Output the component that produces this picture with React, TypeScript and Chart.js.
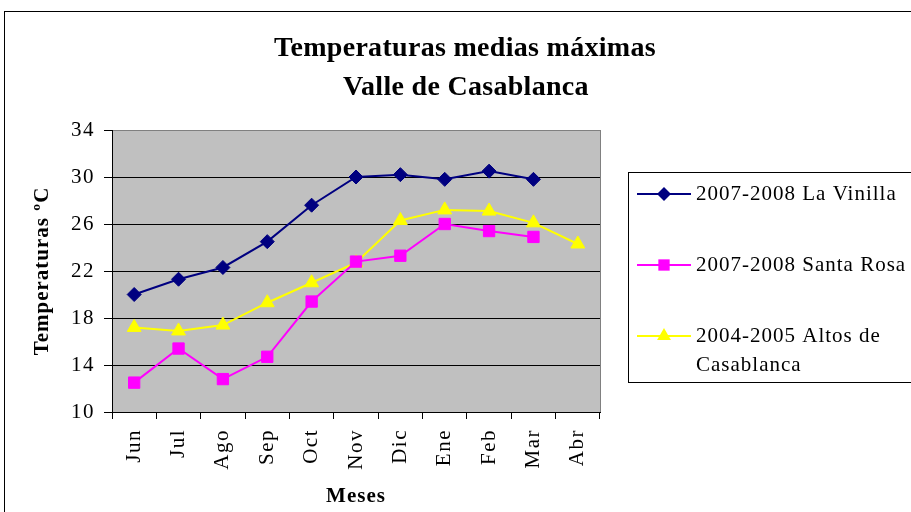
import React, { useEffect, useRef } from 'react';
import { Chart, registerables } from 'chart.js';

Chart.register(...registerables);

const categories = ['Jun', 'Jul', 'Ago', 'Sep', 'Oct', 'Nov', 'Dic', 'Ene', 'Feb', 'Mar', 'Abr'];
const laVinilla = [20.0, 21.3, 22.3, 24.5, 27.6, 30.0, 30.2, 29.8, 30.5, 29.8, null];
const santaRosa = [12.5, 15.4, 12.8, 14.7, 19.4, 22.8, 23.3, 26.0, 25.4, 24.9, null];
const altosCasablanca = [17.2, 16.9, 17.4, 19.3, 21.0, 22.7, 26.3, 27.2, 27.1, 26.1, 24.3];
const yMin = 10;
const yMax = 34;
const yStep = 4;
const seriesNames = ['2007-2008 La Vinilla', '2007-2008 Santa Rosa', '2004-2005 Altos de Casablanca'];
const legendLines = [['2007-2008 La Vinilla'], ['2007-2008 Santa Rosa'], ['2004-2005 Altos de', 'Casablanca']];
const titleLines = ['Temperaturas medias máximas', 'Valle de Casablanca'];
const yTitle = 'Temperaturas ºC';
const xTitle = 'Meses';

const FONT = '"Liberation Serif", "Times New Roman", serif';

function drawMarker(ctx: CanvasRenderingContext2D, style: string, x: number, y: number, r: number, color: string) {
  ctx.save();
  ctx.fillStyle = color;
  ctx.beginPath();
  if (style === 'rectRot') {
    ctx.moveTo(x, y - r);
    ctx.lineTo(x + r, y);
    ctx.lineTo(x, y + r);
    ctx.lineTo(x - r, y);
    ctx.closePath();
  } else if (style === 'rect') {
    const s = r * Math.SQRT1_2;
    ctx.rect(x - s, y - s, 2 * s, 2 * s);
  } else {
    ctx.moveTo(x, y - r);
    ctx.lineTo(x + r * 0.866, y + r * 0.5);
    ctx.lineTo(x - r * 0.866, y + r * 0.5);
    ctx.closePath();
  }
  ctx.fill();
  ctx.restore();
}

const decorPlugin = {
  id: 'decor',
  beforeDraw(chart: any) {
    const { ctx, chartArea: a } = chart;
    ctx.save();
    ctx.fillStyle = '#ffffff';
    ctx.fillRect(0, 0, chart.width, chart.height);
    ctx.fillStyle = '#C0C0C0';
    ctx.fillRect(a.left, a.top, a.right - a.left, a.bottom - a.top);
    ctx.restore();
    // wider letter spacing for the tick labels drawn by the scales
    (ctx as any).letterSpacing = '1.5px';
  },
  afterDraw(chart: any) {
    const { ctx, chartArea: a } = chart;
    ctx.save();
    // plot right border
    ctx.strokeStyle = '#808080';
    ctx.lineWidth = 1;
    ctx.beginPath();
    ctx.moveTo(Math.round(a.right) + 0.5, a.top);
    ctx.lineTo(Math.round(a.right) + 0.5, a.bottom);
    ctx.stroke();

    // outer border
    ctx.strokeStyle = '#000000';
    ctx.lineWidth = 1;
    ctx.strokeRect(4.5, 11.5, 1200, 1200);

    // titles
    ctx.fillStyle = '#000';
    ctx.textAlign = 'center';
    ctx.textBaseline = 'middle';
    (ctx as any).letterSpacing = '0.3px';
    ctx.font = `bold 28px ${FONT}`;
    ctx.fillText(titleLines[0], 465, 49);
    ctx.fillText(titleLines[1], 466, 88);

    // axis titles
    (ctx as any).letterSpacing = '1px';
    ctx.font = `bold 21px ${FONT}`;
    ctx.fillText(xTitle, (a.left + a.right) / 2, 497);
    ctx.save();
    ctx.translate(43, (a.top + a.bottom) / 2);
    ctx.rotate(-Math.PI / 2);
    ctx.fillText(yTitle, 0, 0);
    ctx.restore();

    // legend
    ctx.strokeStyle = '#000';
    ctx.lineWidth = 1;
    ctx.strokeRect(628.5, 172.5, 600, 210);
    const rowsY = [194, 265, 336];
    ctx.font = `21px ${FONT}`;
    ctx.textAlign = 'left';
    chart.data.datasets.forEach((ds: any, i: number) => {
      const y = rowsY[i];
      ctx.strokeStyle = ds.borderColor;
      ctx.lineWidth = 2;
      ctx.beginPath();
      ctx.moveTo(637, y);
      ctx.lineTo(691, y);
      ctx.stroke();
      drawMarker(ctx, ds.pointStyle, 664, y, ds.pointRadius, ds.borderColor);
      ctx.fillStyle = '#000';
      legendLines[i].forEach((t, j) => ctx.fillText(t, 696, y + j * 29));
    });
    ctx.restore();
    (ctx as any).letterSpacing = '0px';
  },
};

export default function App() {
  const ref = useRef<HTMLCanvasElement>(null);
  useEffect(() => {
    document.body.style.margin = '0';
    const chart = new Chart(ref.current as HTMLCanvasElement, {
      type: 'line',
      data: {
        labels: categories,
        datasets: [
          {
            label: seriesNames[0],
            data: laVinilla,
            borderColor: '#000080',
            backgroundColor: '#000080',
            pointStyle: 'rectRot',
            pointRadius: 7,
            pointBorderWidth: 1,
            borderWidth: 2,
          },
          {
            label: seriesNames[1],
            data: santaRosa,
            borderColor: '#FF00FF',
            backgroundColor: '#FF00FF',
            pointStyle: 'rect',
            pointRadius: 8,
            pointBorderWidth: 1,
            borderWidth: 2,
          },
          {
            label: seriesNames[2],
            data: altosCasablanca,
            borderColor: '#FFFF00',
            backgroundColor: '#FFFF00',
            pointStyle: 'triangle',
            pointRadius: 8,
            pointBorderWidth: 1,
            borderWidth: 2,
          },
        ] as any,
      },
      options: {
        responsive: false,
        animation: false,
        layout: { padding: { top: 130, right: 311, left: 0, bottom: 0 } },
        plugins: {
          legend: { display: false },
          title: { display: false },
          tooltip: { enabled: false },
        },
        scales: {
          x: {
            offset: true,
            afterFit: (s: any) => { s.height = 100; },
            grid: { display: true, drawOnChartArea: false, offset: true, tickLength: 7, color: '#000' },
            border: { display: true, color: '#000', width: 1 },
            ticks: {
              autoSkip: false,
              minRotation: 90,
              maxRotation: 90,
              padding: 10,
              color: '#000',
              font: { family: FONT, size: 21 },
            },
          },
          y: {
            min: yMin,
            max: yMax,
            afterFit: (s: any) => { s.width = 112; },
            grid: {
              color: (c: any) => (c.tick && c.tick.value === yMax ? '#808080' : '#000'),
              tickColor: '#000',
              tickLength: 8,
            },
            border: { display: true, color: '#000', width: 1 },
            ticks: {
              stepSize: yStep,
              padding: 9,
              color: '#000',
              font: { family: FONT, size: 21 },
            },
          },
        },
      },
      plugins: [decorPlugin],
    });
    return () => chart.destroy();
  }, []);
  return (
    <div style={{ width: 911, height: 512 }}>
      <canvas ref={ref} width={911} height={512} style={{ display: 'block' }} />
    </div>
  );
}
